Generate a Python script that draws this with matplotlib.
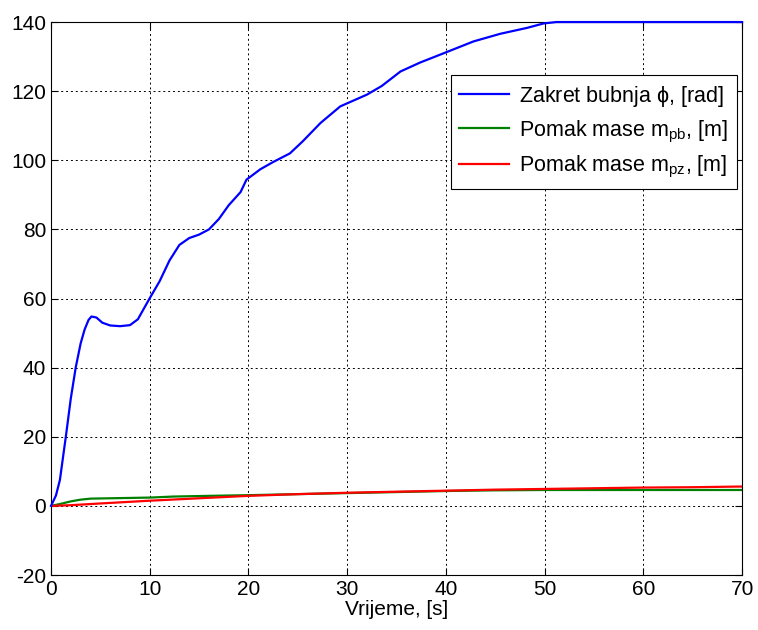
import matplotlib.pyplot as plt
import numpy as np

plt.rcParams['font.family'] = ['Liberation Sans', 'DejaVu Sans']
plt.rcParams['mathtext.default'] = 'regular'
plt.rcParams['axes.unicode_minus'] = False

# drum rotation phi [rad]
t_phi = [0, 0.5, 0.9, 1.5, 2.0, 2.5, 3.0, 3.4, 3.8, 4.1, 4.6, 5.2, 6.0, 7.0, 8.0, 8.8, 9.9,
         11, 12, 13, 14, 15, 16, 17, 18, 19.2, 19.8, 21.2, 22.5, 24.2, 25.5, 27.3, 29.3,
         32, 33.5, 35.4, 37.4, 39.8, 42.8, 45.5, 48.2, 49.9, 51.2, 55, 60, 65, 70]
phi = [0, 3, 7.5, 20, 31, 40, 47, 51, 53.8, 54.8, 54.5, 53, 52.2, 52, 52.3, 54, 59.6,
       65, 71, 75.5, 77.5, 78.5, 80, 83, 87, 90.8, 94.4, 97.4, 99.5, 102, 105.5, 110.8, 115.6,
       119, 121.5, 125.7, 128.3, 131, 134.4, 136.6, 138.3, 139.6, 140, 140, 140, 140, 140]

# mass displacement m_pb [m]
t_pb = [0, 1, 2, 3, 4, 6, 10, 12.4, 16, 20, 25, 30, 35, 40, 45, 50, 55, 60, 65, 70]
m_pb = [0, 0.6, 1.3, 1.8, 2.1, 2.2, 2.4, 2.7, 2.9, 3.1, 3.4, 3.7, 4.0, 4.3, 4.5, 4.6, 4.6, 4.6, 4.6, 4.6]

# mass displacement m_pz [m]
t_pz = [0, 2, 5, 10, 15, 20, 25, 30, 35, 40, 45, 50, 55, 60, 65, 70]
m_pz = [0, 0.2, 0.7, 1.5, 2.2, 2.9, 3.4, 3.8, 4.1, 4.4, 4.7, 4.9, 5.1, 5.3, 5.4, 5.6]

fig = plt.figure(figsize=(7.58, 6.3), dpi=100)
ax = fig.add_axes([0.0673, 0.0873, 0.9117, 0.8777])

ax.plot(t_phi, phi, color='#0000ff', lw=1.6, clip_on=False, zorder=3,
        label=r'Zakret bubnja $\phi$, [rad]')
ax.plot(t_pb, m_pb, color='#008000', lw=1.6, label=r'Pomak mase m$_{pb}$, [m]')
ax.plot(t_pz, m_pz, color='#ff0000', lw=1.6, label=r'Pomak mase m$_{pz}$, [m]')

ax.set_xlim(0, 70)
ax.set_ylim(-20, 140)
ax.set_xticks(np.arange(0, 71, 10))
ax.set_yticks(np.arange(-20, 141, 20))
ax.grid(True, color='black', linestyle=(0, (2, 3)), linewidth=0.7)
ax.tick_params(direction='in', labelsize=15, length=5, top=True, right=True)
for s in ax.spines.values():
    s.set_linewidth(0.8)
ax.set_xlabel('Vrijeme, [s]', fontsize=15, labelpad=1)

leg = ax.legend(loc='upper right', bbox_to_anchor=(0.993, 0.904), borderaxespad=0,
                fontsize=15.5, fancybox=False, edgecolor='black', framealpha=1,
                handlelength=2.3, borderpad=0.4, labelspacing=0.45, handletextpad=0.5)
leg.get_frame().set_linewidth(0.8)
leg.set_zorder(5)

fig.savefig('out.png', dpi=100)
